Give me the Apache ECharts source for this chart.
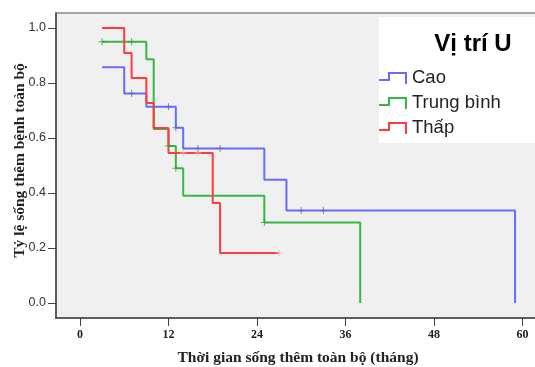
<!DOCTYPE html>
<html>
<head>
<meta charset="utf-8">
<script src="https://cdn.jsdelivr.net/npm/echarts@6/dist/echarts.min.js"></script>
<style>
  html, body { margin: 0; padding: 0; background: #ffffff; }
  #chart { width: 535px; height: 367px; }
</style>
</head>
<body>
<div id="chart"></div>
<script>
// Kaplan–Meier overall survival by tumour position (Vị trí U)
const groupNames = ['Cao', 'Trung bình', 'Thấp'];
const groupColors = ['#6a6aff', '#35b845', '#ff3b3b'];
const censorColors = ['#5a64a8', '#3a9a40', '#d8c48e'];

// step curves: time (months) and cumulative survival after each step
const caoTimes = [3, 6, 9, 13, 14, 25, 28, 59];
const caoSurv = [0.857, 0.762, 0.714, 0.637, 0.562, 0.448, 0.336, 0];
const caoCensorTimes = [7, 12, 13, 16, 19, 30, 33];
const caoCensorSurv = [0.762, 0.714, 0.637, 0.562, 0.562, 0.336, 0.336];

const trungTimes = [3, 9, 10, 12, 13, 14, 25, 38];
const trungSurv = [0.95, 0.886, 0.633, 0.571, 0.49, 0.39, 0.293, 0];
const trungCensorTimes = [3, 7, 12, 13, 25];
const trungCensorSurv = [0.95, 0.95, 0.571, 0.49, 0.293];

const thapTimes = [3, 6, 7, 9, 10, 12, 18, 19, 27];
const thapSurv = [1.0, 0.909, 0.818, 0.727, 0.636, 0.545, 0.364, 0.182, 0.182];
const thapCensorTimes = [14, 16, 27];
const thapCensorSurv = [0.545, 0.545, 0.182];

const xTicks = [0, 12, 24, 36, 48, 60];
const yTicks = [0.0, 0.2, 0.4, 0.6, 0.8, 1.0];

const curves = [
  [caoTimes, caoSurv, caoCensorTimes, caoCensorSurv],
  [trungTimes, trungSurv, trungCensorTimes, trungCensorSurv],
  [thapTimes, thapSurv, thapCensorTimes, thapCensorSurv]
];

const zip = (a, b) => a.map((v, i) => [v, b[i]]);

// small "+" used for censored observations
const plusPath = 'path://M3,0h1v3h3v1h-3v3h-1v-3h-3v-1h3z';
// stepped icon for the legend
const stepIcon = 'path://M0,7L9,7L9,0L28,0L28,12L26,12L26,2L11,2L11,9L0,9Z';

const series = [];
curves.forEach((c, i) => {
  series.push({
    name: groupNames[i],
    type: 'line',
    step: 'end',
    data: zip(c[0], c[1]),
    showSymbol: false,
    symbol: 'none',
    lineStyle: { color: groupColors[i], width: 2 },
    itemStyle: { color: groupColors[i] },
    z: 3 + i,
    animation: false
  });
});
curves.forEach((c, i) => {
  series.push({
    name: groupNames[i] + ' censor',
    type: 'scatter',
    data: zip(c[2], c[3]),
    symbol: plusPath,
    symbolSize: [7, 7],
    itemStyle: { color: censorColors[i] },
    z: 6,
    animation: false
  });
});

const serifBold = { fontFamily: "'Liberation Serif', 'Times New Roman', serif", fontWeight: 'bold', color: '#222' };

const option = {
  backgroundColor: '#ffffff',
  animation: false,
  title: {
    text: 'Vị trí U',
    left: 468,
    top: 27,
    textAlign: 'center',
    textStyle: { fontFamily: "'Liberation Sans', Arial, sans-serif", fontWeight: 'bold', fontSize: 24, color: '#000' }
  },
  graphic: [{
    type: 'rect',
    shape: { x: 379, y: 17, width: 170, height: 126 },
    style: { fill: '#ffffff' },
    z: 1
  }],
  legend: {
    data: groupNames,
    orient: 'vertical',
    left: 379,
    top: 68,
    itemWidth: 28,
    itemHeight: 12,
    itemGap: 5,
    icon: stepIcon,
    padding: 0,
    textStyle: { fontFamily: "'Liberation Sans', Arial, sans-serif", fontSize: 18.5, color: '#222', lineHeight: 20 }
  },
  grid: {
    left: 56,
    top: 13,
    width: 484,
    height: 305,
    containLabel: false,
    outerBoundsMode: 'none',
    show: true,
    backgroundColor: '#f0f0f0',
    borderColor: '#8a8a8a',
    borderWidth: 1.5
  },
  xAxis: {
    type: 'value',
    min: -3.25,
    max: 62.38,
    name: 'Thời gian sống thêm toàn bộ (tháng)',
    nameLocation: 'middle',
    nameGap: 32,
    nameMoveOverlap: false,
    nameTextStyle: Object.assign({ fontSize: 15.5 }, serifBold),
    axisLine: { show: true, onZero: false, lineStyle: { color: '#444', width: 1.5 } },
    axisTick: { show: true, length: 8, customValues: xTicks, lineStyle: { color: '#444' } },
    axisLabel: Object.assign({ fontSize: 12, margin: 11, customValues: xTicks }, serifBold),
    splitLine: { show: false }
  },
  yAxis: {
    type: 'value',
    min: -0.0545,
    max: 1.0545,
    name: 'Tỷ lệ sống thêm bệnh toàn bộ',
    nameLocation: 'middle',
    nameGap: 28,
    nameMoveOverlap: false,
    nameTextStyle: Object.assign({ fontSize: 15.5, padding: [0, 0, 0, 10] }, serifBold),
    axisLine: { show: true, onZero: false, lineStyle: { color: '#444', width: 1.5 } },
    axisTick: { show: true, length: 8, customValues: yTicks, lineStyle: { color: '#444' } },
    axisLabel: {
      customValues: yTicks,
      margin: 10,
      fontSize: 12.5,
      color: '#333',
      fontFamily: "'Liberation Sans Narrow', 'Liberation Sans', Arial, sans-serif",
      formatter: v => v.toFixed(1)
    },
    splitLine: { show: false }
  },
  series: series
};

const chart = echarts.init(document.getElementById('chart'), null, { renderer: 'canvas' });
chart.setOption(option);
</script>
</body>
</html>
